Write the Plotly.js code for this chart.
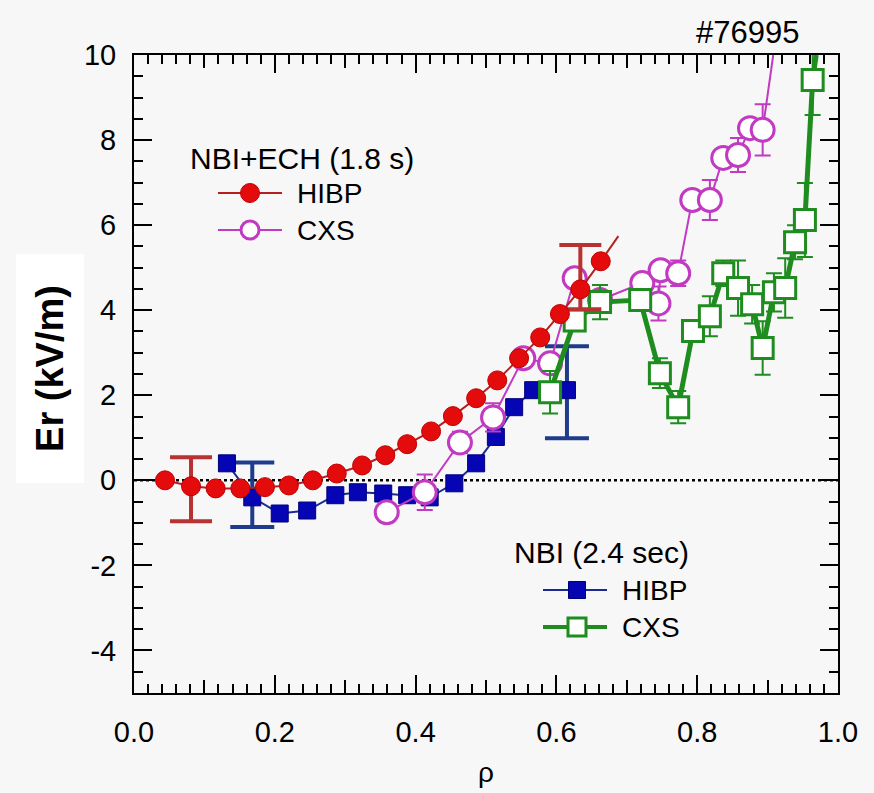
<!DOCTYPE html>
<html><head><meta charset="utf-8">
<script src="https://cdn.plot.ly/plotly-3.0.1.min.js"></script>
<style>html,body{margin:0;padding:0;background:#f7f7f7}</style>
</head><body><div id="chart" style="width:874px;height:793px"></div>
<script>
// NBI+ECH (1.8 s) HIBP
const echHibpRho = [0.044,0.081,0.116,0.151,0.186,0.220,0.254,0.288,0.324,0.357,0.388,0.422,0.453,0.486,0.516,0.547,0.577,0.605,0.634,0.663];
const echHibpEr  = [0.00,-0.14,-0.19,-0.19,-0.16,-0.12,0.00,0.16,0.35,0.59,0.85,1.15,1.51,1.93,2.35,2.87,3.36,3.91,4.49,5.15];
const echHibpTailRho = [0.663,0.688];
const echHibpTailEr  = [5.15,5.74];
const echHibpErrRho = [0.081,0.634];
const echHibpErrEr  = [-0.14,4.49];
const echHibpErrPlus  = [0.68,1.04];
const echHibpErrMinus = [0.82,0.47];

// NBI+ECH (1.8 s) CXS
const echCxsRho = [0.359,0.413,0.463,0.510,0.553,0.591,0.626,0.662,0.722,0.745,0.748,0.773,0.793,0.818,0.837,0.858,0.875,0.893];
const echCxsEr  = [-0.75,-0.28,0.89,1.48,2.87,2.75,4.75,4.24,4.64,4.16,4.94,4.87,6.59,6.59,7.58,7.65,8.28,8.24];
const echCxsErr = [0.20,0.42,0.25,0.33,0.12,0.20,0.15,0.20,0.15,0.40,0.20,0.30,0.20,0.47,0.20,0.40,0.20,0.60];
const echCxsTailRho = [0.893,0.908];
const echCxsTailEr  = [8.24,10.0];

// NBI (2.4 sec) HIBP
const nbiHibpRho = [0.132,0.168,0.207,0.246,0.286,0.318,0.354,0.388,0.420,0.455,0.486,0.514,0.540,0.567,0.591,0.615];
const nbiHibpEr  = [0.40,-0.40,-0.78,-0.71,-0.35,-0.28,-0.31,-0.35,-0.40,-0.07,0.40,1.02,1.72,2.12,2.12,2.12];
const nbiHibpErrRho = [0.168,0.615];
const nbiHibpErrEr  = [-0.40,2.07];
const nbiHibpErrPlus  = [0.82,1.08];
const nbiHibpErrMinus = [0.70,1.08];

// NBI (2.4 sec) CXS
const nbiCxsRho = [0.591,0.626,0.662,0.719,0.747,0.773,0.794,0.818,0.837,0.858,0.878,0.893,0.909,0.925,0.939,0.953,0.964];
const nbiCxsEr  = [2.07,3.76,4.19,4.24,2.52,1.72,3.51,3.86,4.87,4.52,4.14,3.11,4.42,4.52,5.60,6.12,9.41];
const nbiCxsErr = [0.50,0.15,0.40,0.15,0.35,0.38,0.15,0.47,0.30,0.65,0.45,0.63,0.45,0.70,0.40,0.87,0.82];
const nbiCxsTailRho = [0.964,0.969];
const nbiCxsTailEr  = [9.41,10.0];

const xTickVals = [0,0.2,0.4,0.6,0.8,1.0];
const xTickText = ['0.0','0.2','0.4','0.6','0.8','1.0'];
const yTickVals = [-4,-2,0,2,4,6,8,10];
const yTickText = ['-4','-2','0','2','4','6','8','10'];

const RED='#e30b0b', REDLINE='#b5201f', REDERR='#b83232';
const PINK='#c13ac1';
const BLUE='#0505b4', BLUELINE='#1a2a90', BLUEERR='#1f3c8c';
const GREEN='#1f8c1f';
const FONT='Liberation Sans, Arial, Helvetica, sans-serif';

// plot area in pixels: x 134..838, y 55..693
const PL=134, PR=838, PT=55, PB=693;
const px = x => (x-PL)/(PR-PL);
const py = y => (PB-y)/(PB-PT);

const traces = [
  {x: nbiHibpErrRho, y: nbiHibpErrEr, mode:'markers', marker:{size:1,color:'rgba(0,0,0,0)'},
   error_y:{type:'data', array:nbiHibpErrPlus, arrayminus:nbiHibpErrMinus, color:BLUEERR, thickness:4, width:22}, hoverinfo:'skip'},
  {x: nbiHibpRho, y: nbiHibpEr, mode:'lines+markers', line:{color:BLUELINE,width:2},
   marker:{symbol:'square', size:17, color:BLUE, line:{color:'#00007a',width:1}}},
  {x: echCxsTailRho, y: echCxsTailEr, mode:'lines', line:{color:PINK,width:2}},
  {x: echCxsRho, y: echCxsEr, mode:'lines+markers', line:{color:PINK,width:2},
   error_y:{type:'data', array:echCxsErr, color:PINK, thickness:2, width:8},
   marker:{symbol:'circle', size:23, color:'white', line:{color:PINK,width:3}}},
  {x: nbiCxsTailRho, y: nbiCxsTailEr, mode:'lines', line:{color:GREEN,width:5}},
  {x: nbiCxsRho, y: nbiCxsEr, mode:'lines+markers', line:{color:GREEN,width:5},
   error_y:{type:'data', array:nbiCxsErr, color:GREEN, thickness:2, width:8},
   marker:{symbol:'square', size:21, color:'white', line:{color:GREEN,width:3}}},
  {x: echHibpErrRho, y: echHibpErrEr, mode:'markers', marker:{size:1,color:'rgba(0,0,0,0)'},
   error_y:{type:'data', array:echHibpErrPlus, arrayminus:echHibpErrMinus, color:REDERR, thickness:4, width:21}, hoverinfo:'skip'},
  {x: echHibpTailRho, y: echHibpTailEr, mode:'lines', line:{color:REDLINE,width:2}},
  {x: echHibpRho, y: echHibpEr, mode:'lines+markers', line:{color:REDLINE,width:2},
   marker:{symbol:'circle', size:19, color:RED, line:{color:'#c20000',width:1}}},
  {x: [], y: [], xaxis:'x2', yaxis:'y', mode:'markers'}
];

function legendLine(x0,x1,y,color,w){
  return {type:'line', xref:'paper', yref:'paper', x0:px(x0), x1:px(x1), y0:py(y), y1:py(y), line:{color:color,width:w}, layer:'above'};
}
function legendMarker(type,x,y,r,fill,lineColor,lw){
  return {type:type, xref:'paper', yref:'paper', xsizemode:'pixel', ysizemode:'pixel',
    xanchor:px(x), yanchor:py(y), x0:-r, x1:r, y0:-r, y1:r,
    fillcolor:fill, line:{color:lineColor,width:lw}, layer:'above'};
}

const shapes = [
  {type:'line', xref:'paper', yref:'y', x0:0, x1:1, y0:0, y1:0, line:{color:'black',width:2.5,dash:'dot'}, layer:'below'},
  legendLine(218,282,193,REDLINE,2), legendMarker('circle',250,193,9.5,RED,'#c20000',1),
  legendLine(218,282,230,PINK,2), legendMarker('circle',250,230,9,'white',PINK,3),
  legendLine(543,607,590,BLUELINE,2), legendMarker('rect',577,590,8.5,BLUE,'#00007a',1),
  legendLine(543,607,627,GREEN,4), legendMarker('rect',577,627,9,'white',GREEN,3)
];

const annFont = {family:FONT, size:28, color:'black'};
const headFont = {family:FONT, size:30, color:'black'};
const annotations = [
  {xref:'paper', yref:'paper', x:px(188), y:py(158), xanchor:'left', yanchor:'middle', text:'NBI+ECH (1.8 s)', showarrow:false, font:headFont},
  {xref:'paper', yref:'paper', x:px(295), y:py(193), xanchor:'left', yanchor:'middle', text:'HIBP', showarrow:false, font:annFont},
  {xref:'paper', yref:'paper', x:px(295), y:py(230), xanchor:'left', yanchor:'middle', text:'CXS', showarrow:false, font:annFont},
  {xref:'paper', yref:'paper', x:px(512), y:py(552), xanchor:'left', yanchor:'middle', text:'NBI (2.4 sec)', showarrow:false, font:headFont},
  {xref:'paper', yref:'paper', x:px(620), y:py(590), xanchor:'left', yanchor:'middle', text:'HIBP', showarrow:false, font:annFont},
  {xref:'paper', yref:'paper', x:px(620), y:py(627), xanchor:'left', yanchor:'middle', text:'CXS', showarrow:false, font:annFont},
  {xref:'paper', yref:'paper', x:px(747), y:py(33), xanchor:'center', yanchor:'middle', text:'#76995', showarrow:false, font:{family:FONT,size:31,color:'black'}},
  {xref:'paper', yref:'paper', x:px(49.5), y:py(369), xanchor:'center', yanchor:'middle', text:'<b>Er (kV/m)</b>', textangle:-90,
   showarrow:false, bgcolor:'white', width:226, height:65, font:{family:FONT,size:38,color:'black'}}
];

const axCommon = {showline:true, linecolor:'black', linewidth:2, mirror:'ticks', ticks:'inside', tickcolor:'black', tickwidth:2, showgrid:false, zeroline:false};

const layout = {
  width:874, height:793,
  margin:{l:PL, r:874-PR, t:PT, b:793-PB, pad:0},
  paper_bgcolor:'#f7f7f7', plot_bgcolor:'#f7f7f7',
  showlegend:false,
  font:{family:FONT, size:29, color:'black'},
  xaxis: Object.assign({}, axCommon, {range:[0,1], tickvals:xTickVals, ticktext:xTickText, ticklen:18,
    minor:{dtick:0.02, ticklen:9, tickwidth:2, tickcolor:'black', ticks:'inside', showgrid:false},
    tickfont:{family:FONT,size:29}, ticklabelstandoff:12,
    title:{text:'ρ', font:{family:FONT,size:28}, standoff:16}}),
  xaxis2: {overlaying:'x', matches:'x', range:[0,1], anchor:'y', side:'bottom', dtick:0.1, tick0:0, ticks:'inside', ticklen:13, tickwidth:2, tickcolor:'black',
    showticklabels:false, showgrid:false, zeroline:false, showline:false, mirror:'ticks'},
  yaxis: Object.assign({}, axCommon, {range:[-5,10], tickvals:yTickVals, ticktext:yTickText, ticklen:18,
    minor:{dtick:0.5, ticklen:9, tickwidth:2, tickcolor:'black', ticks:'inside', showgrid:false},
    tickfont:{family:FONT,size:29}, ticklabelstandoff:10}),
  shapes: shapes,
  annotations: annotations
};

Plotly.newPlot('chart', traces, layout, {displayModeBar:false, staticPlot:true});
</script>
</body></html>
